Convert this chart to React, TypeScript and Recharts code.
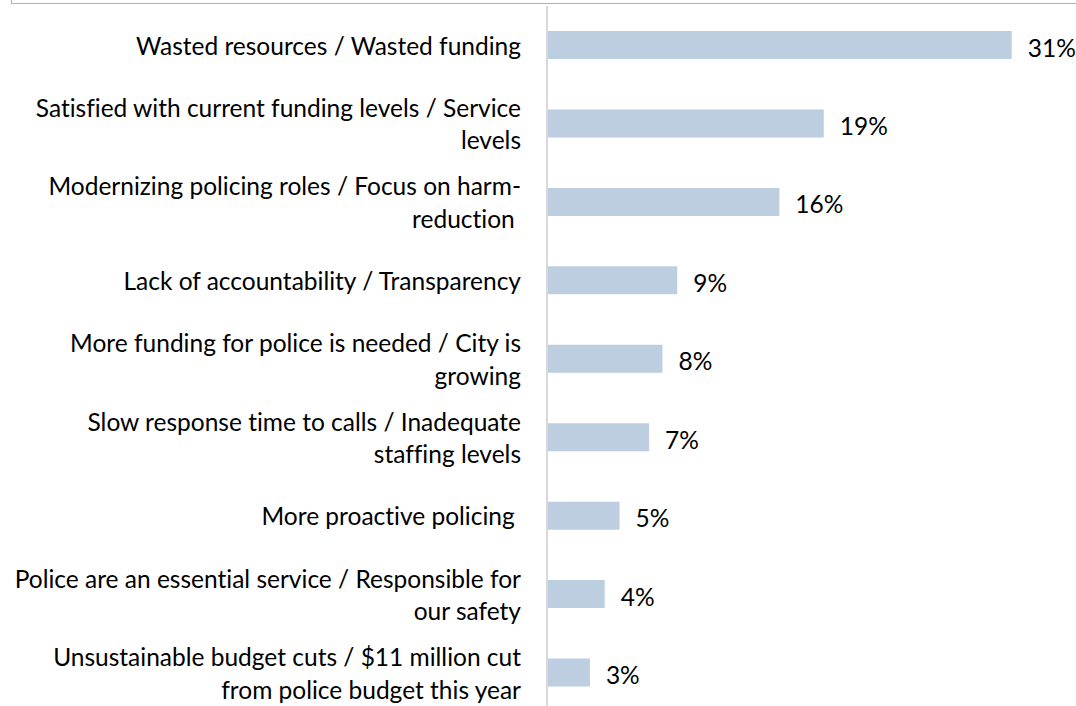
import React from "react";
import { BarChart, Bar, XAxis, YAxis, LabelList } from "recharts";

const categories: string[] = [
  "Wasted resources / Wasted funding",
  "Satisfied with current funding levels / Service\nlevels",
  "Modernizing policing roles / Focus on harm-\nreduction ",
  "Lack of accountability / Transparency",
  "More funding for police is needed / City is\ngrowing",
  "Slow response time to calls / Inadequate\nstaffing levels",
  "More proactive policing ",
  "Police are an essential service / Responsible for\nour safety",
  "Unsustainable budget cuts / $11 million cut\nfrom police budget this year",
];

const shares: number[] = [31.4, 18.7, 15.7, 8.8, 7.8, 6.9, 4.9, 3.9, 2.9];

const data = categories.map((name, i) => ({ name, value: shares[i] }));

const FONT = "Lato, 'Noto Sans', sans-serif";
const FONT_SIZE = 24.5;
const LINE_H = 32.5;
const TEXT_STYLE: React.CSSProperties = {
  whiteSpace: "pre",
  fontVariantLigatures: "none",
  fontFeatureSettings: '"liga" 0, "clig" 0',
};

const WrappedTick = (props: any) => {
  const { x, y, payload } = props;
  const lines: string[] = String(payload.value).split("\n");
  const start = -((lines.length - 1) * LINE_H) / 2;
  return (
    <g>
      {lines.map((ln, i) => (
        <text
          key={i}
          x={x}
          y={y + start + i * LINE_H}
          textAnchor="end"
          dominantBaseline="central"
          fill="#000"
          fontSize={FONT_SIZE}
          fontFamily={FONT}
          style={TEXT_STYLE}
        >
          {ln}
        </text>
      ))}
    </g>
  );
};

const ValueLabel = (props: any) => {
  const { x, y, width, height, value } = props;
  return (
    <text
      x={x + width + 16}
      y={y + height / 2 + 2}
      dominantBaseline="central"
      fill="#000"
      fontSize={FONT_SIZE}
      fontFamily={FONT}
      style={TEXT_STYLE}
    >
      {Math.round(value) + "%"}
    </text>
  );
};

export default function App() {
  return (
    <div
      style={{
        position: "absolute",
        left: 0,
        top: 0,
        width: 1076,
        height: 706,
        overflow: "hidden",
        background: "#fff",
      }}
    >
      <div
        style={{
          position: "absolute",
          left: 11,
          top: -11,
          width: 1065,
          height: 15,
          boxSizing: "border-box",
          borderLeft: "1.5px solid #b0b0b0",
          borderBottom: "1.5px solid #b0b0b0",
        }}
      />
      <BarChart
        layout="vertical"
        width={1076}
        height={712}
        data={data}
        margin={{ top: 6, right: 11, bottom: 0, left: 0 }}
        style={{ fontFamily: FONT }}
      >
        <XAxis type="number" hide domain={[0, 35]} />
        <YAxis
          type="category"
          dataKey="name"
          width={547}
          tickLine={false}
          tickSize={0}
          tickMargin={26}
          axisLine={{ stroke: "#d9d9d9", strokeWidth: 2 }}
          tick={<WrappedTick />}
          interval={0}
        />
        <Bar dataKey="value" fill="#bccee0" barSize={28} isAnimationActive={false}>
          <LabelList dataKey="value" content={<ValueLabel />} />
        </Bar>
      </BarChart>
    </div>
  );
}
